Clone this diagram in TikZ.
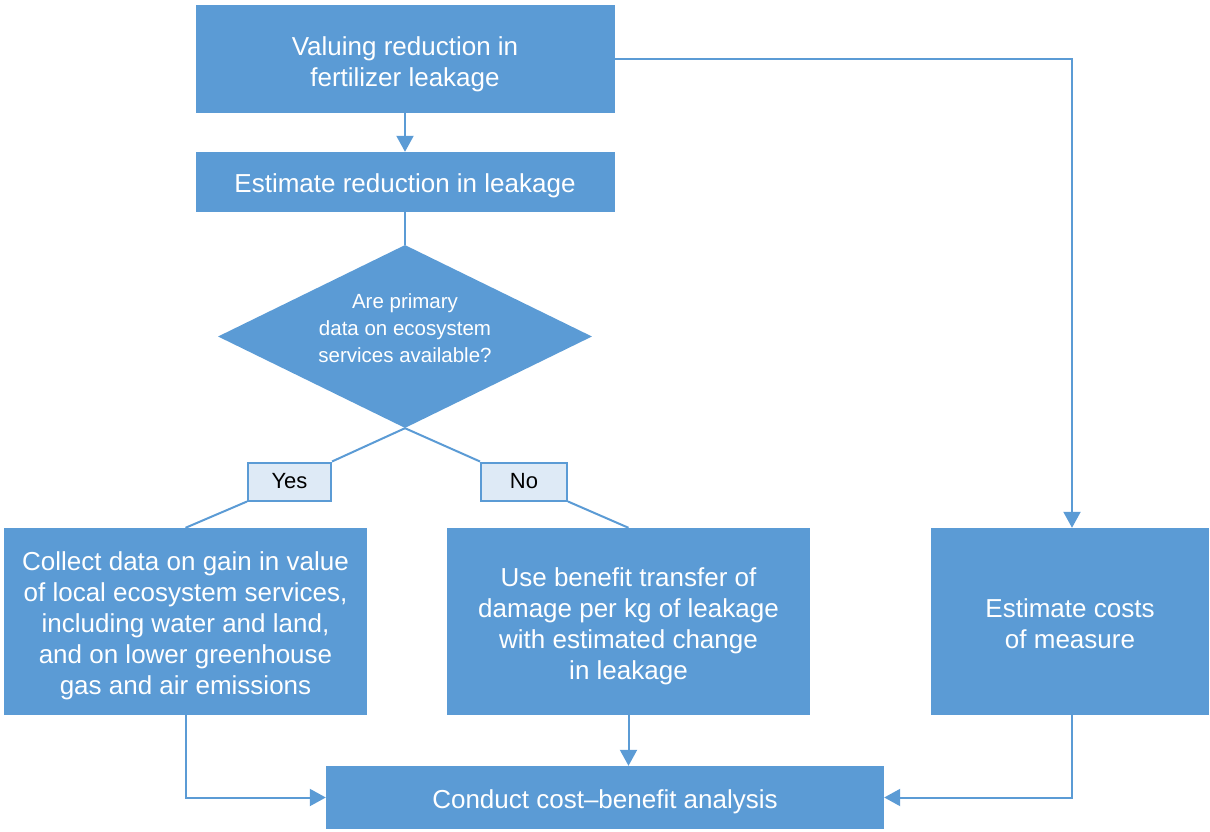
\documentclass[tikz,border=0pt]{standalone}
\usepackage{fontspec}
\setmainfont{Liberation Sans}
\usetikzlibrary{arrows.meta,shapes.geometric}
\definecolor{flowblue}{HTML}{5B9BD5}
\definecolor{labelfill}{HTML}{DEEAF6}
% invisible strut that lowers a box's text a little
\newcommand\topstrut[1]{\rule{0pt}{#1}}
\begin{document}
\begin{tikzpicture}[x=1pt,y=-1pt,
  stepbox/.style={draw=none,fill=flowblue,text=white,inner sep=0pt,align=center,
    font=\fontsize{26}{31}\selectfont},
  choice/.style={diamond,fill=flowblue,text=white,inner sep=0pt,align=center,
    aspect=2.04,minimum width=374pt,minimum height=183pt,
    font=\fontsize{20.5}{27}\selectfont,
    execute at end node={\rule[-16pt]{0pt}{0pt}}},
  answer/.style={draw=flowblue,line width=2pt,fill=labelfill,text=black,inner sep=0pt,
    minimum height=38pt,font=\fontsize{22}{26}\selectfont},
  link/.style={draw=flowblue,line width=2pt},
  flow/.style={link,-{Triangle[length=16pt,width=17pt]}}]
\useasboundingbox (0,0) rectangle (1210,832);

\node[stepbox,minimum width=419pt,minimum height=108pt] (value) at (405,59)
  {\topstrut{29pt}Valuing reduction in\\fertilizer leakage};
\node[stepbox,minimum width=419pt,minimum height=60pt] (estimate) at (405,182)
  {\topstrut{27pt}Estimate reduction in leakage};
\node[choice] (question) at (405,336.5) {Are primary\\data on ecosystem\\services available?};
\node[answer,minimum width=83pt] (yes) at (289.5,481.5) {Yes};
\node[answer,minimum width=86pt] (no) at (524,481.5) {No};
\node[stepbox,minimum width=363pt,minimum height=187pt] (collect) at (185.5,621.5)
  {\topstrut{27pt}Collect data on gain in value\\of local ecosystem services,\\including water and land,\\and on lower greenhouse\\gas and air emissions};
\node[stepbox,minimum width=363pt,minimum height=187pt] (transfer) at (628.5,621.5)
  {\topstrut{29pt}Use benefit transfer of\\damage per kg of leakage\\with estimated change\\in leakage};
\node[stepbox,minimum width=278pt,minimum height=187pt] (costs) at (1070,621.5)
  {\topstrut{23pt}Estimate costs\\of measure};
\node[stepbox,minimum width=558pt,minimum height=63pt] (cba) at (605,797.5)
  {\topstrut{27pt}Conduct cost–benefit analysis};

% main column
\draw[flow] (value.south) -- (estimate.north);
\draw[link] (estimate.south) -- (question.north);

% decision branches
\draw[link] (question.south) -- (yes.north east);
\draw[link] (yes.south west) -- (collect.north);
\draw[link] (question.south) -- (no.north west);
\draw[link] (no.south east) -- (transfer.north);

% cost branch
\coordinate (topright) at (1072,59);
\draw[flow] (value.east) -- (topright) -- (costs.north -| topright);

% into the cost-benefit analysis
\draw[flow] (collect.south) -- (collect.south |- cba.west) -- (cba.west);
\draw[flow] (transfer.south) -- (transfer.south |- cba.north);
\draw[flow] (costs.south -| topright) -- (topright |- cba.east) -- (cba.east);
\end{tikzpicture}
\end{document}
